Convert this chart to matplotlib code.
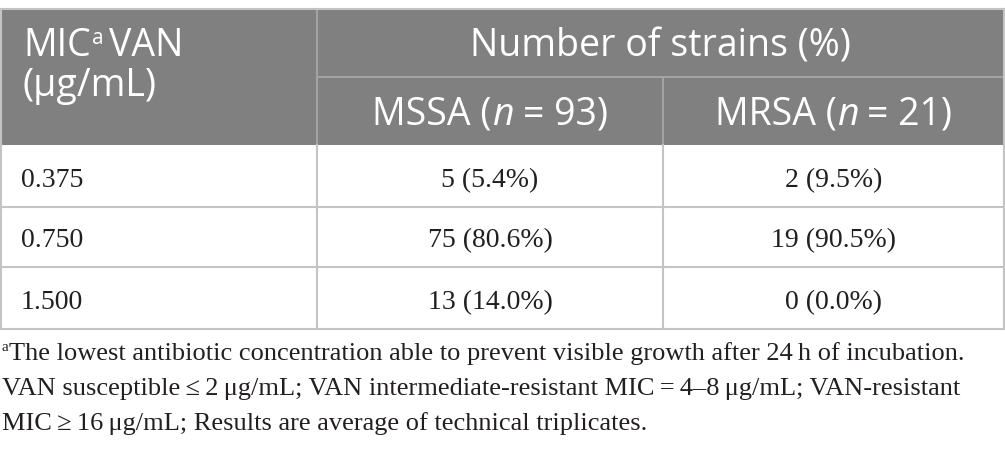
import matplotlib
matplotlib.use("Agg")
import matplotlib.pyplot as plt
from matplotlib.patches import Rectangle

# table content
mic_values = ["0.375", "0.750", "1.500"]
mssa_counts = [5, 75, 13]
mssa_pct = [5.4, 80.6, 14.0]
mrsa_counts = [2, 19, 0]
mrsa_pct = [9.5, 90.5, 0.0]
n_mssa = 93
n_mrsa = 21
group_header = "Number of strains (%)"
footnote_lines = [
    "The lowest antibiotic concentration able to prevent visible growth after 24\u2009h of incubation.",
    "VAN susceptible\u2009\u2264\u20092\u2009\u03bcg/mL; VAN intermediate-resistant MIC\u2009=\u20094\u20138\u2009\u03bcg/mL; VAN-resistant",
    "MIC\u2009\u2265\u200916\u2009\u03bcg/mL; Results are average of technical triplicates.",
]

# layout in pixels
W, H = 1005, 463
col_x = [1, 317, 663, 1004]
head_y = [9, 77, 145]
row_y = [145, 207, 267, 329]
HEAD_BG = "#808080"
HEAD_LINE = "#a3a3a3"
GRID = "#c4c4c4"
SANS = "Open Sans"
SERIF = "Liberation Serif"

fig = plt.figure(figsize=(W / 100, H / 100), dpi=100)
ax = fig.add_axes([0, 0, 1, 1])
ax.set_xlim(0, W)
ax.set_ylim(H, 0)
ax.axis("off")
renderer = fig.canvas.get_renderer()


def draw_runs(x, y, runs, ha="left"):
    # runs: (text, props, dy, gap_after)
    items = []
    for s, kw, dy, gap in runs:
        t = ax.text(0, y + dy, s, va="baseline", ha="left", **kw)
        w = t.get_window_extent(renderer=renderer).width
        items.append((t, w, gap))
    total = sum(w + g for _, w, g in items) - items[-1][2]
    pos = x - total / 2 if ha == "center" else x
    for t, w, g in items:
        t.set_x(pos)
        pos += w + g


# header background
ax.add_patch(Rectangle((col_x[0], head_y[0]), col_x[-1] - col_x[0],
                       head_y[2] - head_y[0], facecolor=HEAD_BG, edgecolor="none"))

# header lines
ax.plot([col_x[1], col_x[3]], [head_y[1], head_y[1]], color=HEAD_LINE, lw=1.5)
ax.plot([col_x[1], col_x[1]], [head_y[0], head_y[2]], color=HEAD_LINE, lw=1.5)
ax.plot([col_x[2], col_x[2]], [head_y[1], head_y[2]], color=HEAD_LINE, lw=1.5)

# body grid
for y in row_y[1:]:
    ax.plot([col_x[0], col_x[3]], [y, y], color=GRID, lw=1.5)
for x in col_x:
    ax.plot([x, x], [row_y[0], row_y[-1]], color=GRID, lw=1.5)
ax.plot([col_x[0], col_x[3]], [head_y[0], head_y[0]], color=GRID, lw=1.5)
ax.plot([col_x[0], col_x[0]], [head_y[0], head_y[2]], color=GRID, lw=1.5)
ax.plot([col_x[3], col_x[3]], [head_y[0], head_y[2]], color=GRID, lw=1.5)

hd = dict(family=SANS, fontsize=27, color="white")
hd_sup = dict(family=SANS, fontsize=15, color="white")
hd_it = dict(family=SANS, fontsize=27, color="white", style="italic")

draw_runs(23, 56, [("MIC", hd, 0, 1), ("a", hd_sup, -12, 6), ("VAN", hd, 0, 0)])
ax.text(23, 96, "(\u03bcg/mL)", va="baseline", ha="left", **hd)
ax.text((col_x[1] + col_x[3]) / 2, 56, group_header, va="baseline", ha="center", **hd)
draw_runs((col_x[1] + col_x[2]) / 2, 125,
          [("MSSA (", hd, 0, 0), ("n", hd_it, 0, 9), ("= %d)" % n_mssa, hd, 0, 0)], ha="center")
draw_runs((col_x[2] + col_x[3]) / 2, 125,
          [("MRSA (", hd, 0, 0), ("n", hd_it, 0, 9), ("= %d)" % n_mrsa, hd, 0, 0)], ha="center")

# body
body = dict(family=SERIF, fontsize=20, color="#231f20")
for i, mic in enumerate(mic_values):
    base = row_y[i + 1] - 20
    ax.text(21, base, mic, va="baseline", ha="left", **body)
    ax.text((col_x[1] + col_x[2]) / 2, base, "%d (%.1f%%)" % (mssa_counts[i], mssa_pct[i]),
            va="baseline", ha="center", **body)
    ax.text((col_x[2] + col_x[3]) / 2, base, "%d (%.1f%%)" % (mrsa_counts[i], mrsa_pct[i]),
            va="baseline", ha="center", **body)

# footnote
fn = dict(family=SERIF, fontsize=19, color="#231f20")
fn_sup = dict(family=SERIF, fontsize=11, color="#231f20")
fn_base = [360, 395, 430]
draw_runs(2, fn_base[0], [("a", fn_sup, -9, 0), (footnote_lines[0], fn, 0, 0)])
for line, yb in zip(footnote_lines[1:], fn_base[1:]):
    ax.text(2, yb, line, va="baseline", ha="left", **fn)

fig.savefig("out.png", dpi=100)
